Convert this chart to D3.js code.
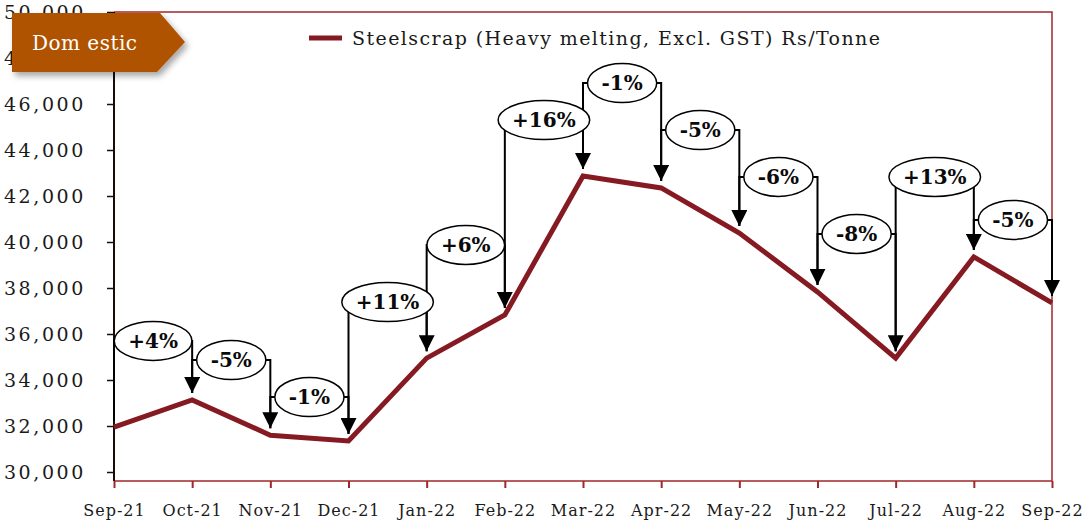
<!DOCTYPE html>
<meta charset="utf-8">
<style>
    body { margin: 0; background: #fff; }
    text { font-family: "DejaVu Serif", Georgia, serif; }
    .tick-y text { font-size: 19px; letter-spacing: 2.6px; fill: #1a1a1a; }
    .tick-x text { font-size: 16px; letter-spacing: 1px; fill: #1a1a1a; }
    .pct { font-size: 20px; font-weight: bold; fill: #0a0a0a; }
</style>
<svg width="1084" height="520"></svg>
<script src="https://d3js.org/d3.v7.min.js"></script>
<script>
    // data
    const months = ["Sep-21", "Oct-21", "Nov-21", "Dec-21", "Jan-22", "Feb-22", "Mar-22",
        "Apr-22", "May-22", "Jun-22", "Jul-22", "Aug-22", "Sep-22"];
    const price = [31950, 33130, 31600, 31350, 34950, 36830, 42870,
        42350, 40390, 37830, 34950, 39350, 37350];
    const changeLabels = ["+4%", "-5%", "-1%", "+11%", "+6%", "+16%", "-1%",
        "-5%", "-6%", "-8%", "+13%", "-5%"];
    // level (Rs/Tonne) where each change bubble sits
    const changeLevels = [35700, 34870, 33260, 37390, 39870, 45300, 46910,
        44870, 42830, 40350, 42830, 40960];
    const yTicks = [30000, 32000, 34000, 36000, 38000, 40000, 42000, 44000, 46000, 48000, 50000];

    const lineColor = "#861a22",
        frameColor = "#a0282c",
        badgeColor = "#b05300";

    let svg = d3.select("svg");

    let pLeft = 114, pRight = 1052, pTop = 12, pBottom = 481;

    let x = d3.scalePoint().domain(months).range([pLeft, pRight]);
    let y = d3.scaleLinear().domain([30000, 50000]).range([472, pTop]);

    let defs = svg.append("defs");
    defs.append("marker")
        .attr("id", "arrow")
        .attr("viewBox", "0 0 10 10")
        .attr("refX", 10).attr("refY", 5)
        .attr("markerUnits", "userSpaceOnUse")
        .attr("markerWidth", 16).attr("markerHeight", 16)
        .attr("orient", "auto")
        .append("path")
        .attr("d", "M0,0 L10,5 L0,10 Z")
        .attr("fill", "#000");

    let shadow = defs.append("filter").attr("id", "shadow")
        .attr("x", "-20%").attr("y", "-20%").attr("width", "150%").attr("height", "160%");
    shadow.append("feDropShadow")
        .attr("dx", 3).attr("dy", 4).attr("stdDeviation", 3)
        .attr("flood-color", "#000").attr("flood-opacity", 0.35);

    // frame
    svg.append("path")
        .attr("d", `M${pLeft},${pTop} H${pRight} V${pBottom} H${pLeft}`)
        .attr("fill", "none")
        .attr("stroke", frameColor)
        .attr("stroke-width", 1.5);

    // x axis ticks + labels
    let xg = svg.append("g").attr("class", "tick-x")
        .attr("transform", `translate(0,${pBottom})`)
        .call(d3.axisBottom(x).tickSize(7).tickPadding(17));
    xg.select(".domain").remove();
    xg.selectAll("line").attr("stroke", frameColor).attr("stroke-width", 2);
    xg.selectAll("text").attr("font-size", null).attr("font-family", null);

    // y axis
    let yg = svg.append("g").attr("class", "tick-y")
        .attr("transform", `translate(${pLeft},0)`)
        .call(d3.axisLeft(y).tickValues(yTicks).tickSize(7).tickPadding(21)
            .tickFormat(d3.format(",")));
    yg.select(".domain").remove();
    yg.selectAll("line").attr("stroke", "#111").attr("stroke-width", 1.5);
    yg.selectAll("text").attr("font-size", null).attr("font-family", null).attr("dy", "0.36em");
    svg.append("line")
        .attr("x1", pLeft).attr("x2", pLeft)
        .attr("y1", pTop).attr("y2", pBottom)
        .attr("stroke", "#1a0a0a").attr("stroke-width", 2);

    // price line
    svg.append("path")
        .datum(price)
        .attr("fill", "none")
        .attr("stroke", lineColor)
        .attr("stroke-width", 5)
        .attr("stroke-linejoin", "miter")
        .attr("d", d3.line().x((d, i) => x(months[i])).y(d => y(d)));

    // change connectors
    let gap = 7;
    let conn = svg.append("g");
    changeLabels.forEach((lbl, i) => {
        let x0 = x(months[i]), x1 = x(months[i + 1]);
        let ly = y(changeLevels[i]);
        conn.append("path")
            .attr("d", `M${x0},${y(price[i]) - gap} V${ly} H${x1} V${y(price[i + 1]) - gap}`)
            .attr("fill", "none")
            .attr("stroke", "#000")
            .attr("stroke-width", 2)
            .attr("marker-end", "url(#arrow)");
    });

    let bubbles = svg.append("g");
    changeLabels.forEach((lbl, i) => {
        let cx = (x(months[i]) + x(months[i + 1])) / 2;
        let cy = y(changeLevels[i]);
        let b = bubbles.append("g");
        let el = b.append("ellipse")
            .attr("cx", cx).attr("cy", cy)
            .attr("fill", "#fff").attr("stroke", "#000").attr("stroke-width", 1.5);
        let t = b.append("text").attr("class", "pct")
            .attr("x", cx).attr("y", cy)
            .attr("dy", "0.36em")
            .attr("text-anchor", "middle")
            .text(lbl);
        let w = t.node().getComputedTextLength();
        el.attr("rx", w / 2 + 14).attr("ry", 19.5);
    });

    // legend
    svg.append("line")
        .attr("x1", 309).attr("x2", 342)
        .attr("y1", 38).attr("y2", 38)
        .attr("stroke", lineColor).attr("stroke-width", 5);
    svg.append("text")
        .attr("x", 352).attr("y", 38)
        .attr("dy", "0.35em")
        .attr("font-size", 19)
        .attr("fill", "#1a1a1a")
        .attr("textLength", 528)
        .text("Steelscrap (Heavy melting, Excl. GST) Rs/Tonne");

    // badge (sits over the upper y labels, as in the source)
    let badge = svg.append("g");
    badge.append("path")
        .attr("d", "M12,13 H160 L185,42 L157,72 H12 Z")
        .attr("fill", badgeColor)
        .attr("filter", "url(#shadow)");
    badge.append("text")
        .attr("x", 32).attr("y", 43)
        .attr("dy", "0.36em")
        .attr("font-size", 20)
        .attr("fill", "#fff")
        .attr("textLength", 105)
        .text("Dom estic");
</script>
</html>
